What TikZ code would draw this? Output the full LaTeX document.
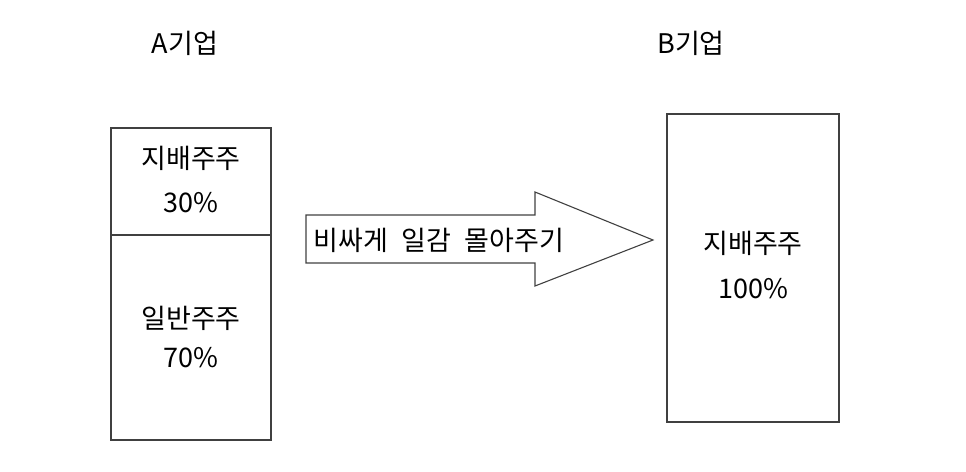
\documentclass[tikz,border=0pt]{standalone}
\usepackage{fontspec}
\setmainfont{Noto Sans CJK KR}
\usetikzlibrary{positioning, calc}
\definecolor{edgegray}{HTML}{404040}

\begin{document}
\begin{tikzpicture}[x=1pt, y=-1pt,
    box/.style={draw=edgegray, line width=1.3pt, inner sep=0pt},
    lbl/.style={font=\fontsize{27}{32}\selectfont, align=center}]
    \useasboundingbox (0,0) rectangle (966,471);
    % company A
    \node[lbl] (titleA) at (185,43) {A기업};
    \node[box, minimum width=160pt, minimum height=107pt] (ctrlA) at (191,181.5) {};
    \node[box, minimum width=160pt, minimum height=205pt] (genA) at (191,337.5) {};
    \node[lbl] at (191,158) {지배주주};
    \node[lbl] at (191,203) {30\%};
    \node[lbl] at (191,318) {일반주주};
    \node[lbl] at (191,358) {70\%};
    % arrow
    \draw[edgegray, line width=1.1pt, line join=miter]
        (306,215) -- (535,215) -- (535,192) -- (653,240) -- (535,286)
        -- (535,263) -- (306,263) -- cycle;
    \node[lbl, anchor=west] (deal) at (310,240) {비싸게\hspace{0.5em}일감\hspace{0.5em}몰아주기};
    % company B
    \node[lbl] (titleB) at (691,43) {B기업};
    \node[box, minimum width=172pt, minimum height=308pt] (ctrlB) at (753,268) {};
    \node[lbl] at (753,243) {지배주주};
    \node[lbl] at (753,289) {100\%};
\end{tikzpicture}
\end{document}
